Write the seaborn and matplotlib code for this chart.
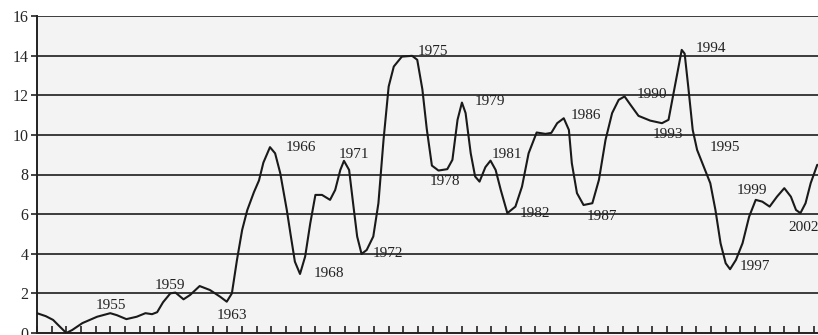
import matplotlib
matplotlib.use("Agg")
import matplotlib.pyplot as plt
import numpy as np
import pandas as pd
import seaborn as sns

# decimal year and value
years = [
    1950.0, 1950.6, 1951.1, 1951.45, 1952.0, 1952.4, 1953.1, 1954.1, 1955.0, 1955.45,
    1956.1, 1956.8, 1957.4, 1957.85, 1958.2, 1958.6, 1959.1, 1959.45, 1960.0, 1960.45,
    1961.1, 1961.8, 1962.5, 1962.95, 1963.3, 1963.65, 1964.0, 1964.35, 1964.8, 1965.15,
    1965.45, 1965.9, 1966.25, 1966.6, 1967.05, 1967.3, 1967.6, 1967.95, 1968.3, 1968.65,
    1969.0, 1969.45, 1970.0, 1970.35, 1970.7, 1970.95, 1971.3, 1971.6, 1971.85, 1972.15,
    1972.5, 1972.95, 1973.3, 1973.65, 1974.0, 1974.35, 1974.9, 1975.6, 1975.95, 1976.3,
    1976.6, 1976.95, 1977.4, 1978.0, 1978.35, 1978.7, 1979.0, 1979.25, 1979.6, 1979.9,
    1980.2, 1980.6, 1980.95, 1981.3, 1981.65, 1982.1, 1982.65, 1983.1, 1983.55, 1984.1,
    1984.7, 1985.1, 1985.5, 1985.95, 1986.3, 1986.5, 1986.85, 1987.3, 1987.9, 1988.35,
    1988.8, 1989.25, 1989.7, 1990.1, 1990.5, 1991.05, 1991.85, 1992.65, 1993.1, 1993.4,
    1993.7, 1994.0, 1994.2, 1994.45, 1994.75, 1995.05, 1995.5, 1995.95, 1996.3, 1996.65,
    1997.0, 1997.3, 1997.7, 1998.15, 1998.6, 1999.05, 1999.5, 2000.0, 2000.5, 2001.0,
    2001.45, 2001.8, 2002.1, 2002.45, 2002.8, 2003.25,
]
values = [
    1.0, 0.85, 0.66, 0.4, 0.0, 0.15, 0.5, 0.82, 1.0, 0.9,
    0.7, 0.82, 1.0, 0.95, 1.05, 1.55, 2.0, 2.04, 1.7, 1.92,
    2.37, 2.17, 1.83, 1.58, 2.0, 3.7, 5.2, 6.2, 7.1, 7.7,
    8.6, 9.38, 9.07, 8.07, 6.2, 5.0, 3.6, 2.98, 3.86, 5.54,
    6.97, 6.97, 6.72, 7.22, 8.23, 8.69, 8.23, 6.38, 4.87, 3.99,
    4.19, 4.87, 6.55, 9.75, 12.44, 13.45, 13.95, 13.99, 13.79, 12.3,
    10.3, 8.45, 8.2, 8.27, 8.74, 10.76, 11.63, 11.1, 9.07, 7.9,
    7.64, 8.37, 8.7, 8.23, 7.22, 6.05, 6.38, 7.39, 9.07, 10.12,
    10.05, 10.1, 10.59, 10.84, 10.25, 8.57, 7.06, 6.46, 6.55, 7.73,
    9.75, 11.1, 11.77, 11.94, 11.52, 10.96, 10.72, 10.59, 10.76, 11.94,
    13.11, 14.29, 14.1, 12.4, 10.25, 9.24, 8.4, 7.56, 6.21, 4.53,
    3.52, 3.22, 3.69, 4.53, 5.87, 6.72, 6.63, 6.38, 6.88, 7.31,
    6.88, 6.21, 6.05, 6.55, 7.56, 8.49,
]

# year labels placed next to turning points (text, x, y)
labels = [
    ("1955", 1955.05, 1.41), ("1959", 1959.05, 2.42), ("1963", 1963.3, 0.9),
    ("1966", 1968.0, 9.36), ("1968", 1969.95, 3.0), ("1971", 1971.63, 9.0),
    ("1972", 1973.94, 3.99), ("1975", 1977.0, 14.2), ("1978", 1977.87, 7.64),
    ("1979", 1980.94, 11.68), ("1981", 1982.1, 9.0), ("1982", 1984.0, 6.05),
    ("1986", 1987.43, 10.98), ("1987", 1988.52, 5.88), ("1990", 1992.0, 12.02),
    ("1993", 1993.03, 10.0), ("1994", 1995.97, 14.34), ("1995", 1996.93, 9.36),
    ("1997", 1998.98, 3.35), ("1999", 1998.77, 7.19), ("2002", 2002.29, 5.34),
]

sns.set_style("white")
plt.rcParams["font.family"] = ["Liberation Serif", "DejaVu Serif"]

df = pd.DataFrame({"year": years, "value": values})

fig = plt.figure(figsize=(8.18, 3.35), dpi=100)
ax = fig.add_axes([37 / 818, 2 / 335, 1 - 37 / 818 + 0.02, 317 / 335])
ax.set_facecolor("#f3f3f3")

for yv in range(2, 17, 2):
    ax.axhline(yv, color="#3c3c3c", lw=1.4, zorder=1)

sns.lineplot(data=df, x="year", y="value", ax=ax, color="#1a1a1a", lw=1.5,
             zorder=3, solid_joinstyle="round")

for text, lx, ly in labels:
    ax.text(lx, ly, text, ha="center", va="center", fontsize=11, color="#222222", zorder=4)

ax.set_xlim(1950, 2003.35 + 0.02 * 781 / 14.64)
ax.set_ylim(0, 16)
ax.set_yticks(range(0, 17, 2))
ax.set_xticks(np.arange(1950, 2005))
ax.set_xticklabels([])
ax.set_xlabel("")
ax.set_ylabel("")
ax.tick_params(axis="y", direction="out", length=4, width=1.2, color="#222222",
               labelsize=11.5, pad=2, left=True)
ax.tick_params(axis="x", direction="in", length=5, width=1.2, color="#222222", bottom=True)
for side in ["top", "right"]:
    ax.spines[side].set_visible(False)
for side in ["left", "bottom"]:
    ax.spines[side].set_color("#222222")
    ax.spines[side].set_linewidth(1.4)

fig.savefig("out.png", dpi=100, facecolor="white")
